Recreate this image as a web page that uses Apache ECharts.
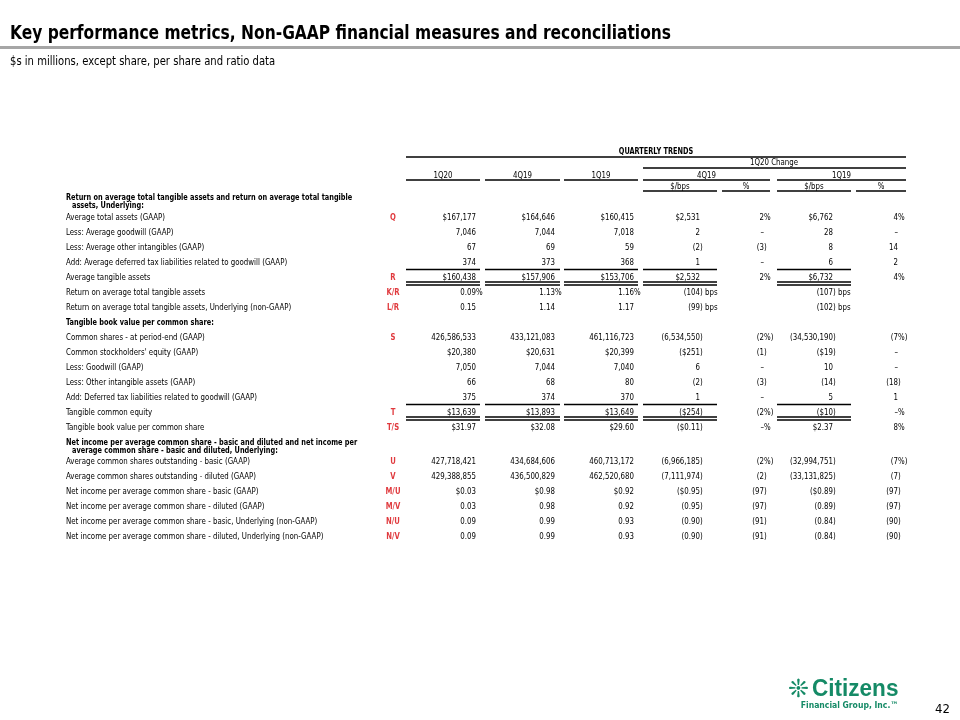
<!DOCTYPE html>
<html><head><meta charset="utf-8">
<script src="https://cdn.jsdelivr.net/npm/echarts@6/dist/echarts.min.js"></script>
<style>html,body{margin:0;padding:0;background:#fff}#c{width:960px;height:720px}</style>
</head><body><div id="c"></div>
<script>
// ---------------- data ----------------
const titleText = "Key performance metrics, Non-GAAP financial measures and reconciliations";
const subtitleText = "$s in millions, except share, per share and ratio data";
const periodHeaders = ["1Q20", "4Q19", "1Q19"];
const changeGroupHeader = "1Q20 Change";
const changeHeaders = ["4Q19", "1Q19"];
const changeSubHeaders = ["$/bps", "%", "$/bps", "%"];

const rowLabels = [
  "Return on average total tangible assets and return on average total tangible\nassets, Underlying:",
  "Average total assets (GAAP)",
  "Less: Average goodwill (GAAP)",
  "Less: Average other intangibles (GAAP)",
  "Add: Average deferred tax liabilities related to goodwill (GAAP)",
  "Average tangible assets",
  "Return on average total tangible assets",
  "Return on average total tangible assets, Underlying (non-GAAP)",
  "Tangible book value per common share:",
  "Common shares - at period-end (GAAP)",
  "Common stockholders' equity (GAAP)",
  "Less: Goodwill (GAAP)",
  "Less: Other intangible assets (GAAP)",
  "Add: Deferred tax liabilities related to goodwill (GAAP)",
  "Tangible common equity",
  "Tangible book value per common share",
  "Net income per average common share - basic and diluted and net income per\naverage common share - basic and diluted, Underlying:",
  "Average common shares outstanding - basic (GAAP)",
  "Average common shares outstanding - diluted (GAAP)",
  "Net income per average common share - basic (GAAP)",
  "Net income per average common share - diluted (GAAP)",
  "Net income per average common share - basic, Underlying (non-GAAP)",
  "Net income per average common share - diluted, Underlying (non-GAAP)"
];
const rowRefs = ["", "Q", "", "", "", "R", "K/R", "L/R", "", "S", "", "", "", "", "T", "T/S", "", "U", "V", "M/U", "M/V", "N/U", "N/V"];

const val1Q20 = ["", "$167,177", "7,046", "67", "374", "$160,438", "0.09%", "0.15", "", "426,586,533", "$20,380", "7,050", "66", "375", "$13,639", "$31.97", "", "427,718,421", "429,388,855", "$0.03", "0.03", "0.09", "0.09"];
const val4Q19 = ["", "$164,646", "7,044", "69", "373", "$157,906", "1.13%", "1.14", "", "433,121,083", "$20,631", "7,044", "68", "374", "$13,893", "$32.08", "", "434,684,606", "436,500,829", "$0.98", "0.98", "0.99", "0.99"];
const val1Q19 = ["", "$160,415", "7,018", "59", "368", "$153,706", "1.16%", "1.17", "", "461,116,723", "$20,399", "7,040", "80", "370", "$13,649", "$29.60", "", "460,713,172", "462,520,680", "$0.92", "0.92", "0.93", "0.93"];
const chgVs4Q19Amt = ["", "$2,531", "2", "(2)", "1", "$2,532", "(104) bps", "(99) bps", "", "(6,534,550)", "($251)", "6", "(2)", "1", "($254)", "($0.11)", "", "(6,966,185)", "(7,111,974)", "($0.95)", "(0.95)", "(0.90)", "(0.90)"];
const chgVs4Q19Pct = ["", "2%", "–", "(3)", "–", "2%", "", "", "", "(2%)", "(1)", "–", "(3)", "–", "(2%)", "–%", "", "(2%)", "(2)", "(97)", "(97)", "(91)", "(91)"];
const chgVs1Q19Amt = ["", "$6,762", "28", "8", "6", "$6,732", "(107) bps", "(102) bps", "", "(34,530,190)", "($19)", "10", "(14)", "5", "($10)", "$2.37", "", "(32,994,751)", "(33,131,825)", "($0.89)", "(0.89)", "(0.84)", "(0.84)"];
const chgVs1Q19Pct = ["", "4%", "–", "14", "2", "4%", "", "", "", "(7%)", "–", "–", "(18)", "1", "–%", "8%", "", "(7%)", "(7)", "(97)", "(97)", "(90)", "(90)"];

const singleRuleAfter = [4, 13];
const doubleRuleAfter = [5, 14];
const pageNumber = "42";

// ---------------- layout ----------------
const FONT = "'DejaVu Sans Condensed', 'DejaVu Sans', sans-serif";
const FS = 8.5;
const SX = 0.92, SXB = 0.86;
const labelX = 66, refX = 393;
const colSpans = [[406,480],[485,560],[564,638],[643,717],[722,770],[777,851],[856,906]];
const colX = [476, 555, 634, 700, 764, 833, 898];
const ruledCols = [0,1,2,3,5];
const valueCols = [val1Q20, val4Q19, val1Q19, chgVs4Q19Amt, chgVs4Q19Pct, chgVs1Q19Amt, chgVs1Q19Pct];
const RED = '#e03a3e', GREEN = '#158a66';

const rowY = []; { let y = 198; rowLabels.forEach(l => { rowY.push(y); y += l.includes('\n') ? 19.5 : 15; }); }
const isHeader = rowLabels.map((l, i) => valueCols.every(a => !a[i]));

// table cells
const cells = [];
valueCols.forEach((arr, c) => arr.forEach((v, i) => { if (v) cells.push({ x: colX[c], y: rowY[i], t: v }); }));
const labelCells = rowLabels.map((l, i) => ({ x: labelX, y: rowY[i], t: l, bold: isHeader[i] }));
const refCells = rowRefs.map((r, i) => ({ x: refX, y: rowY[i], t: r })).filter(d => d.t);
const rules = [];
singleRuleAfter.forEach(r => ruledCols.forEach(c => rules.push({ x1: colSpans[c][0], x2: colSpans[c][1], y: rowY[r] + 7 })));
doubleRuleAfter.forEach(r => ruledCols.forEach(c => { rules.push({ x1: colSpans[c][0], x2: colSpans[c][1], y: rowY[r] + 4.5 }); rules.push({ x1: colSpans[c][0], x2: colSpans[c][1], y: rowY[r] + 7.5 }); }));

function splitHang(s) {
  const m = s.match(/^(.*?[^%)\s])([%)]*(?: bps)?)$/);
  return m ? [m[1], m[2]] : [s, ''];
}
function txt(x, y, text, opt, sx) {
  const o = Object.assign({ text, fill: '#000', fontFamily: FONT, fontSize: FS, fontWeight: 'normal', align: 'left', verticalAlign: 'middle' }, opt || {});
  const s = sx != null ? sx : (o.fontWeight === 'bold' ? SXB : SX);
  return { type: 'text', x, y, scaleX: s, style: o };
}

const chart = echarts.init(document.getElementById('c'), null, { renderer: 'canvas' });

// header graphics (pixel layout)
const hdr = [];
function hline(x1, x2, y, w) { hdr.push({ type: 'line', shape: { x1, y1: y, x2, y2: y }, style: { stroke: '#000', lineWidth: w || 1.5 } }); }
hdr.push(txt(10, 34, titleText, { fontSize: 20, fontWeight: 'bold' }, 0.86));
hdr.push({ type: 'rect', shape: { x: 0, y: 46, width: 960, height: 3 }, style: { fill: '#a6a6a6' } });
hdr.push(txt(10, 62, subtitleText, { fontSize: 12 }, 0.93));
hdr.push(txt(656, 152, "QUARTERLY TRENDS", { align: 'center', fontWeight: 'bold' })); hline(406, 906, 157);
hdr.push(txt(774, 163, changeGroupHeader, { align: 'center' })); hline(643, 906, 168);
periodHeaders.forEach((h, i) => { hdr.push(txt((colSpans[i][0] + colSpans[i][1]) / 2, 176, h, { align: 'center' })); hline(colSpans[i][0], colSpans[i][1], 180); });
[[643, 770], [777, 906]].forEach((s, i) => { hdr.push(txt((s[0] + s[1]) / 2, 176, changeHeaders[i], { align: 'center' })); hline(s[0], s[1], 180); });
changeSubHeaders.forEach((h, i) => { const s = colSpans[3 + i]; hdr.push(txt((s[0] + s[1]) / 2, 187, h, { align: 'center' })); hline(s[0], s[1], 191); });
// logo + page number
hdr.push(txt(788, 690, "❊", { fontSize: 25, fill: GREEN, fontFamily: 'DejaVu Sans', fontWeight: 'bold' }, 1));
hdr.push(txt(812, 690, "Citizens", { fontSize: 23, fill: GREEN, fontFamily: "'Liberation Sans', sans-serif", fontWeight: 'bold' }, 0.98));
hdr.push(txt(898, 706, "Financial Group, Inc.™", { fontSize: 9, fill: GREEN, fontWeight: 'bold', align: 'right' }, 0.95));
hdr.push(txt(950, 710, pageNumber, { fontSize: 13, align: 'right' }, 1));

chart.setOption({
  animation: false,
  grid: { left: 0, right: 0, top: 0, bottom: 0 },
  xAxis: { type: 'value', min: 0, max: 960, show: false },
  yAxis: { type: 'value', min: 0, max: 720, inverse: true, show: false },
  graphic: hdr,
  series: [
    { type: 'custom', name: 'values', silent: true, clip: false, data: cells.map(d => [d.x, d.y]),
      renderItem: (p, api) => {
        const c = api.coord([api.value(0), api.value(1)]); const [core, hang] = splitHang(cells[p.dataIndex].t);
        const ch = [txt(c[0], c[1], core, { align: 'right' })];
        if (hang) ch.push(txt(c[0], c[1], hang, { align: 'left' }));
        return { type: 'group', children: ch };
      } },
    { type: 'custom', name: 'labels', silent: true, clip: false, data: labelCells.map(d => [d.x, d.y]),
      renderItem: (p, api) => {
        const c = api.coord([api.value(0), api.value(1)]); const d = labelCells[p.dataIndex];
        const lines = d.t.split('\n'); const w = d.bold ? 'bold' : 'normal';
        return { type: 'group', children: lines.map((l, k) => txt(c[0] + (k ? 6 : 0), c[1] + k * 8, l, { fontWeight: w })) };
      } },
    { type: 'custom', name: 'refs', silent: true, clip: false, data: refCells.map(d => [d.x, d.y]),
      renderItem: (p, api) => {
        const c = api.coord([api.value(0), api.value(1)]);
        return txt(c[0], c[1], refCells[p.dataIndex].t, { align: 'center', fill: RED, fontWeight: 'bold' }, 0.9);
      } },
    { type: 'custom', name: 'rules', silent: true, clip: false, data: rules.map(d => [d.x1, d.y, d.x2]),
      renderItem: (p, api) => {
        const a = api.coord([api.value(0), api.value(1)]); const b = api.coord([api.value(2), api.value(1)]);
        return { type: 'line', shape: { x1: a[0], y1: a[1], x2: b[0], y2: b[1] }, style: { stroke: '#000', lineWidth: 1.5 } };
      } }
  ]
});
</script></body></html>
